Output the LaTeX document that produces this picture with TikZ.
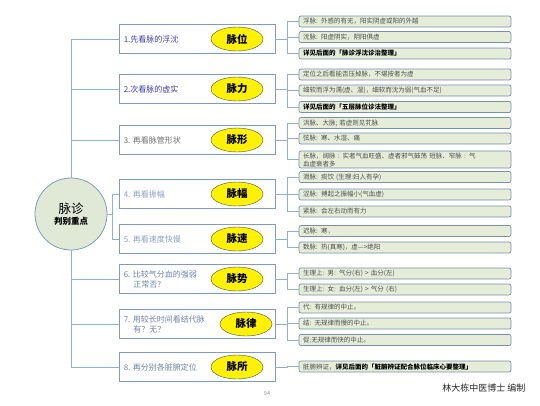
\documentclass[tikz,border=0pt]{standalone}
\usepackage{fontspec}
\setmainfont{Noto Sans CJK SC}
\usetikzlibrary{positioning,shapes.geometric}
\definecolor{linkc}{HTML}{8FB0D3}
\definecolor{lboxc}{HTML}{7F9CC0}
\definecolor{rboxc}{HTML}{7890AE}
\definecolor{rfill}{HTML}{E5EDD9}
\definecolor{hubf}{HTML}{DFE9D5}
\definecolor{ltA}{HTML}{3F3FB5}
\definecolor{ltB}{HTML}{707070}
\definecolor{ltC}{HTML}{8DA2CC}
\definecolor{ltD}{HTML}{6F84AD}
\tikzset{
  link/.style={draw=linkc,line width=0.8pt},
  lbox/.style={draw=lboxc,line width=0.8pt,fill=white,minimum width=156pt,minimum height=29pt},
  ltxt/.style={font=\fontsize{8}{10}\selectfont,align=left,inner sep=0pt,anchor=west},
  tag/.style={ellipse,draw=black!70,fill=yellow,minimum width=52pt,minimum height=24pt,inner sep=0pt,font=\fontsize{10.5}{12}\selectfont\bfseries},
  rbox/.style={draw=rboxc,fill=rfill,rounded corners=2pt,line width=0.7pt,minimum width=212pt,text width=204pt,
    minimum height=11pt,inner xsep=4pt,inner ysep=1.5pt,align=left,font=\fontsize{6.5}{8}\selectfont,text=black!70},
  hub/.style={circle,draw=lboxc,fill=hubf,minimum size=72pt,line width=0.8pt,align=center}
}
\begin{document}
\begin{tikzpicture}[x=1pt,y=-1pt]
\useasboundingbox (0,0) rectangle (540,405);
\node[hub] (hub) at (71,214) {{\fontsize{12.5}{15}\selectfont 脉诊}\\[-1pt]{\fontsize{8.5}{10}\selectfont\bfseries 判别重点}};
% left column
\foreach \i/\y/\c/\lab/\tx/\tg in {1/39/ltA/{1.先看脉的浮沈}/237/脉位,2/89/ltA/{2.次看脉的虚实}/237/脉力,
  3/140/ltB/{3. 再看脉管形状}/237/脉形,4/194/ltC/{4. 再看振幅}/237/脉幅,5/239/ltC/{5. 再看速度快慢}/237/脉速,
  6/279/ltD/{6. 比较气分血的强弱\\\hspace{1.2em}正常否?}/237/脉势,7/324/ltD/{7. 用较长时间看结代脉\\\hspace{1.2em}有？无？}/246/脉律,
  8/367/ltD/{8. 再分别各脏腑定位}/237/脉所}{
  \node[lbox] (b\i) at (197,\y) {};
  \node[ltxt,text=\c,right=5pt of b\i.west] (l\i) {\lab};
  \node[tag] (t\i) at (\tx,\y) {\tg};
}
\foreach \i in {1,2,3} \draw[link] (b\i.west) -| (hub.north);
\foreach \i in {6,7,8} \draw[link] (b\i.west) -| (hub.south);
\foreach \i in {4,5} \draw[link] (b\i.west) -- ++(-6,0) |- (hub.east);
% right column
\foreach \n/\p/\y/\txt in {r1a/1/21.5/{浮脉: 外感的有无，阳实阴虚或阳的外越},r1b/1/37/{沈脉: 阳虚阴实，阴阳俱虚},
  r1c/1/53.5/{\textcolor{black}{\bfseries 详见后面的「脉诊浮沈诊治整理」}},
  r2a/2/74.5/{定位之后看能否压掉脉，不堪按者为虚},r2b/2/90.5/{细软而浮为濡(虚、湿)，细软而沈为弱(气血不足)},
  r2c/2/107/{\textcolor{black}{\bfseries 详见后面的「五层脉位诊法整理」}},
  r3a/3/123/{洪脉、大脉; 若虚则见芤脉},r3b/3/138.5/{弦脉: 寒、水湿、痛},
  r3c/3/159.5/{长脉，阔脉 : 实者气血旺盛、虚者邪气鼓荡 短脉、窄脉 : 气\\血虚衰者多},
  r4a/4/177/{滑脉: 痰饮 (生理:妇人有孕)},r4b/4/194.5/{涩脉: 搏起之振幅小(气血虚)},r4c/4/211.5/{紧脉: 会左右动而有力},
  r5a/5/231/{迟脉: 寒，},r5b/5/247.5/{数脉: 热(真寒)，虚--->绝阳},
  r6a/6/273.5/{生理上: 男: 气分(右) > 血分(左)},r6b/6/289.5/{生理上: 女: 血分(左) > 气分 (右)},
  r7a/7/307.5/{代: 有规律的中止。},r7b/7/323.5/{结: 无规律而慢的中止。},r7c/7/340/{促:无规律而快的中止。},
  r8a/8/366.5/{脏腑辨证，\textcolor{black}{\bfseries 详见后面的「脏腑辨证配合脉位临床心要整理」}}}{
  \node[rbox] (\n) at (405,\y) {\txt};
  \draw[link] (\n.west) -- ++(-11,0) |- (b\p.east);
}
\node[anchor=east,font=\fontsize{9}{11}\selectfont,text=black!85] (sign) at (529,388) {林大栋中医博士 编制};
\node[font=\fontsize{5.5}{7}\selectfont,text=black!45] (page) at (267,394) {94};
\end{tikzpicture}
\end{document}
